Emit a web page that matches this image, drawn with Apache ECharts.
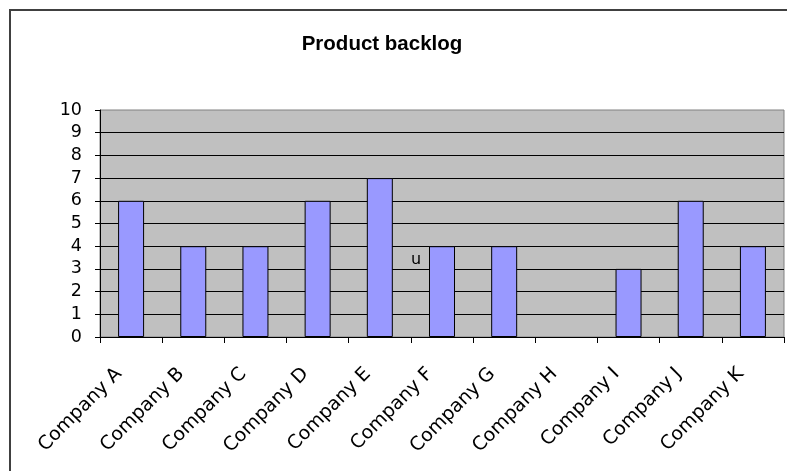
<!DOCTYPE html>
<html>
<head>
<meta charset="utf-8">
<script src="https://cdn.jsdelivr.net/npm/echarts@6/dist/echarts.min.js"></script>
<style>
  html, body { margin: 0; padding: 0; background: #fff; }
  #chart { width: 787px; height: 471px; }
</style>
</head>
<body>
<div id="chart"></div>
<script>
// Backlog size per company (Company H has no entry)
const companies = ['Company A', 'Company B', 'Company C', 'Company D', 'Company E',
  'Company F', 'Company G', 'Company H', 'Company I', 'Company J', 'Company K'];
const backlog = [6, 4, 4, 6, 7, 4, 4, null, 3, 6, 4];
const yMin = 0;
const yMax = 10;
const yStep = 1;

const titleFont = '"Liberation Sans", Arial, sans-serif';
const labelFont = '"DejaVu Sans", Verdana, sans-serif';
const chart = echarts.init(document.getElementById('chart'), null, { renderer: 'canvas' });

chart.setOption({
  backgroundColor: '#ffffff',
  animation: false,
  title: {
    text: 'Product backlog',
    left: 377,
    textAlign: 'center',
    top: 29,
    textStyle: { fontFamily: titleFont, fontSize: 20.5, fontWeight: 'bold', color: '#000' }
  },
  grid: {
    left: 100, top: 110, right: 3, bottom: 134,
    show: true,
    backgroundColor: '#c0c0c0',
    borderColor: '#808080',
    borderWidth: 1
  },
  xAxis: {
    type: 'category',
    data: companies,
    boundaryGap: true,
    axisLine: { show: true, lineStyle: { color: '#000', width: 1 } },
    axisTick: { show: true, alignWithLabel: false, length: 6, lineStyle: { color: '#000' } },
    axisLabel: {
      interval: 0,
      rotate: 45,
      margin: 22,
      padding: [0, 17, 0, 0],
      fontFamily: labelFont,
      fontSize: 19,
      color: '#000'
    },
    splitLine: { show: false }
  },
  yAxis: {
    type: 'value',
    min: yMin,
    max: yMax,
    interval: yStep,
    axisLine: { show: true, lineStyle: { color: '#000', width: 1 } },
    axisTick: { show: true, length: 5, lineStyle: { color: '#000' } },
    axisLabel: { margin: 18, fontFamily: labelFont, fontSize: 17.5, color: '#000' },
    splitLine: { show: true, showMaxLine: false, lineStyle: { color: '#000', width: 1 } }
  },
  series: [{
    type: 'bar',
    data: backlog,
    barWidth: 26,
    itemStyle: { color: '#9999ff', borderColor: '#000', borderWidth: 1 }
  }],
  graphic: [
    {
      type: 'rect',
      shape: { x: 10, y: 10, width: 800, height: 500 },
      style: { fill: 'none', stroke: '#404040', lineWidth: 2 },
      silent: true
    },
    {
      type: 'text',
      left: 411, top: 252,
      style: { text: 'u', fontFamily: labelFont, fontSize: 16, fill: '#000' }
    }
  ]
});
</script>
</body>
</html>
